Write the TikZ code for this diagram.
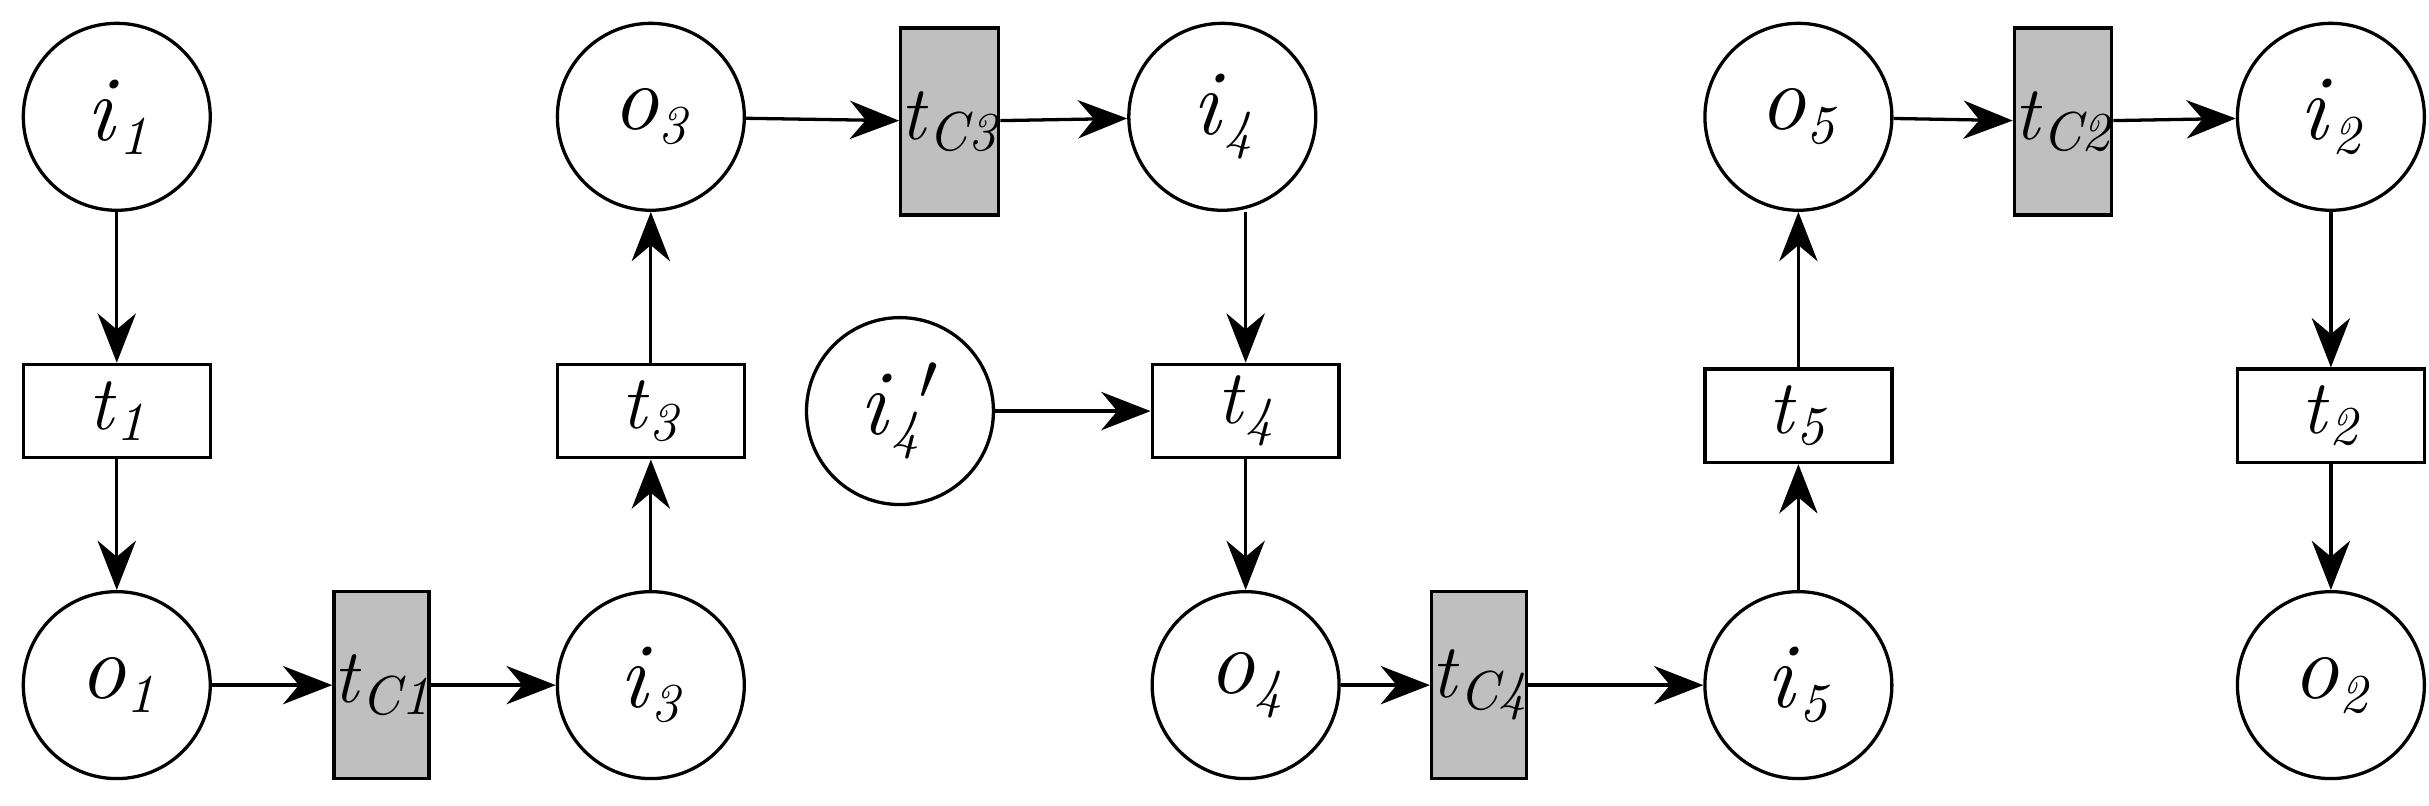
\documentclass[tikz,border=0pt]{standalone}
\usetikzlibrary{arrows.meta}
\newcommand{\lab}[2]{\textit{#1}\raisebox{-0.35ex}{\fontsize{10}{12}\selectfont\textit{#2}}}
\begin{document}
\begin{tikzpicture}[x=0.01cm,y=-0.01cm,
  pl/.style={circle,draw,line width=0.6pt,minimum size=1.2cm,inner sep=0pt,font=\fontsize{17}{20}\selectfont},
  tr/.style={rectangle,draw,line width=0.6pt,minimum width=1.2cm,minimum height=0.6cm,inner sep=0pt,font=\fontsize{14}{17}\selectfont},
  ct/.style={rectangle,draw,fill=gray!50,line width=0.6pt,minimum width=0.6cm,minimum height=1.2cm,inner sep=0pt,font=\fontsize{14}{17}\selectfont},
  ar/.style={-{Stealth[length=9pt,width=7pt]},line width=0.6pt}]
\useasboundingbox (0,0) rectangle (1560,517);
\node[pl] (i1) at (75,75) {\lab{i}{1}};
\node[tr] (t1) at (75,264) {\lab{t}{1}};
\node[pl] (o1) at (75,440) {\lab{o}{1}};
\node[ct] (tc1) at (245,440) {\lab{t}{C1}};
\node[pl] (i3) at (418,440) {\lab{i}{3}};
\node[tr] (t3) at (418,264) {\lab{t}{3}};
\node[pl] (o3) at (418,75) {\lab{o}{3}};
\node[ct] (tc3) at (610,78) {\lab{t}{C3}};
\node[pl] (i4) at (785,75) {\lab{i}{4}};
\node[tr] (t4) at (800,264) {\lab{t}{4}};
\node[pl] (i4p) at (578,264) {\lab{i}{4}$'$};
\node[pl] (o4) at (800,440) {\lab{o}{4}};
\node[ct] (tc4) at (950,440) {\lab{t}{C4}};
\node[pl] (i5) at (1155,440) {\lab{i}{5}};
\node[tr] (t5) at (1155,267) {\lab{t}{5}};
\node[pl] (o5) at (1155,75) {\lab{o}{5}};
\node[ct] (tc2) at (1325,78) {\lab{t}{C2}};
\node[pl] (i2) at (1497,75) {\lab{i}{2}};
\node[tr] (t2) at (1497,267) {\lab{t}{2}};
\node[pl] (o2) at (1497,440) {\lab{o}{2}};
\draw[ar] (i1) -- (t1);
\draw[ar] (t1) -- (o1);
\draw[ar] (o1) -- (tc1);
\draw[ar] (tc1) -- (i3);
\draw[ar] (i3) -- (t3);
\draw[ar] (t3) -- (o3);
\draw[ar] (o3) -- (tc3);
\draw[ar] (tc3) -- (i4);
\draw[ar] (i4.south -| t4.north) -- (t4.north);
\draw[ar] (i4p) -- (t4);
\draw[ar] (t4) -- (o4);
\draw[ar] (o4) -- (tc4);
\draw[ar] (tc4) -- (i5);
\draw[ar] (i5) -- (t5);
\draw[ar] (t5) -- (o5);
\draw[ar] (o5) -- (tc2);
\draw[ar] (tc2) -- (i2);
\draw[ar] (i2) -- (t2);
\draw[ar] (t2) -- (o2);
\end{tikzpicture}
\end{document}
